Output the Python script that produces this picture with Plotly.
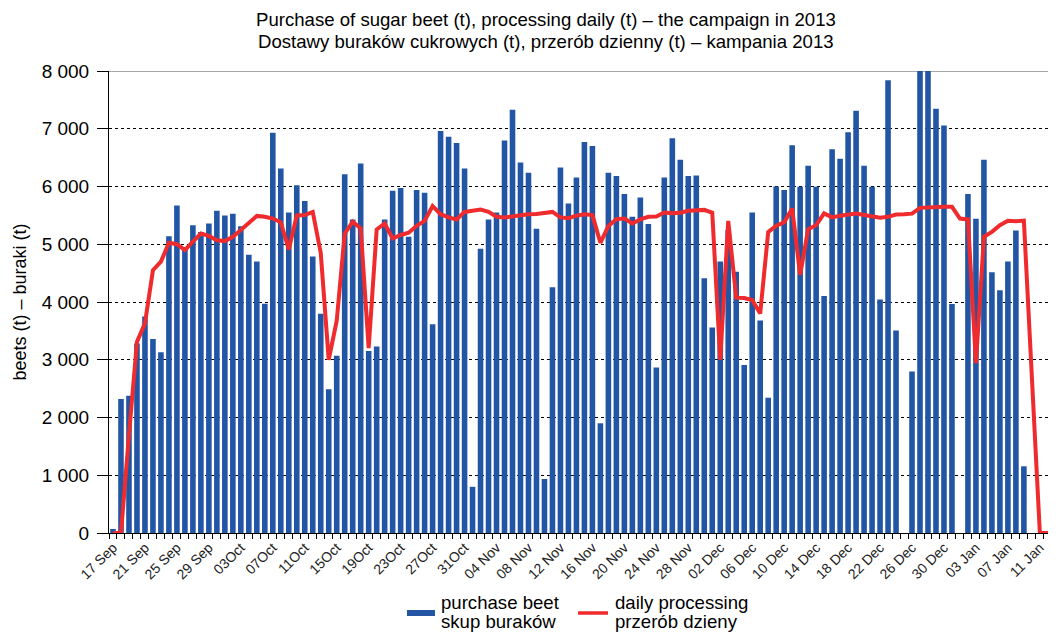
import pandas as pd
import plotly.graph_objects as go

# ---- data -------------------------------------------------------------
days = [d.strftime("%d %b") for d in pd.date_range("2013-09-17", "2014-01-13", freq="D")]

purchase = [
    70, 2320, 2375, 3280, 3750, 3360, 3130, 5140, 5670, 4930,
    5330, 5210, 5360, 5580, 5500, 5530, 5310, 4820, 4700, 3970,
    6930, 6310, 5550, 6020, 5750, 4790, 3795, 2490, 3070, 6210,
    5430, 6400, 3150, 3230, 5430, 5925, 5975, 5130, 5940, 5890,
    3615, 6960, 6860, 6755, 6310, 800, 4920, 5430, 5550, 6795,
    7330, 6415, 6240, 5270, 935, 4255, 6330, 5705, 6155, 6770,
    6700, 1900, 6240, 6180, 5870, 5475, 5810, 5350, 2865, 6155,
    6835, 6465, 6180, 6190, 4410, 3560, 4700, 5245, 4525, 2910,
    5550, 3680, 2340, 6000, 5940, 6715, 5995, 6360, 5995, 4105,
    6645, 6480, 6940, 7310, 6360, 5995, 4045, 7840, 3505, 0,
    2795, 8250, 8150, 7345, 7055, 3965, 0, 5870, 5440, 6465,
    4515, 4205, 4700, 5240, 1155, 0, 0, 0, 0,
]

processing = [
    0, 0, 1700, 3310, 3630, 4550, 4700, 5025, 5000, 4900,
    5045, 5185, 5145, 5070, 5055, 5130, 5245, 5360, 5490, 5475,
    5445, 5380, 4910, 5500, 5505, 5560, 4850, 3000, 3675, 5185,
    5390, 5275, 3200, 5255, 5360, 5100, 5160, 5200, 5320, 5405,
    5660, 5520, 5465, 5430, 5560, 5580, 5600, 5560, 5475, 5465,
    5485, 5505, 5520, 5525, 5545, 5560, 5465, 5450, 5495, 5520,
    5505, 5025, 5315, 5435, 5445, 5360, 5430, 5475, 5480, 5550,
    5535, 5545, 5580, 5590, 5595, 5545, 3000, 5405, 4075, 4070,
    4035, 3800, 5210, 5320, 5380, 5620, 4470, 5260, 5330, 5535,
    5465, 5495, 5520, 5530, 5505, 5475, 5460, 5475, 5515, 5520,
    5530, 5630, 5640, 5645, 5650, 5648, 5445, 5430, 2940, 5130,
    5215, 5330, 5405, 5400, 5410, 2700, 0, 0, 0,
]

tick_idx = list(range(0, 117, 4))
tick_labels = [
    "17 Sep", "21 Sep", "25 Sep", "29 Sep", "03Oct", "07Oct", "11Oct", "15Oct",
    "19Oct", "23Oct", "27Oct", "31Oct", "04 Nov", "08 Nov", "12 Nov", "16 Nov",
    "20 Nov", "24 Nov", "28 Nov", "02 Dec", "06 Dec", "10 Dec", "14 Dec",
    "18 Dec", "22 Dec", "26 Dec", "30 Dec", "03 Jan", "07 Jan", "11 Jan",
]
y_ticks = [0, 1000, 2000, 3000, 4000, 5000, 6000, 7000, 8000]

series_names = [["purchase beet", "skup buraków"], ["daily processing", "przerób dzieny"]]
title_lines = [
    "Purchase of sugar beet (t), processing daily (t) – the campaign in 2013",
    "Dostawy buraków cukrowych (t), przerób dzienny (t) – kampania 2013",
]
y_title = "beets (t) – buraki (t)"

# ---- figure -----------------------------------------------------------
x = list(range(len(days)))
FONT = "Liberation Sans, Arial, sans-serif"
BLUE, RED = "#2256a5", "#ef2b2d"
# the page body adds an 8px margin, so the figure is 8px smaller each way
W, H = 1048, 624
ML, MR, MT, MB = 101, 0, 63, 99
PW, PH = W - ML - MR, H - MT - MB


def px(fx):
    return (fx - ML) / PW


def py(fy):
    return (H - MB - fy) / PH


fig = go.Figure()
fig.add_trace(go.Bar(
    x=x, y=purchase, name=" / ".join(series_names[0]), customdata=days,
    marker=dict(color=BLUE, line=dict(width=0)),
    hovertemplate="%{customdata}: %{y}<extra></extra>",
))
fig.add_trace(go.Scatter(
    x=x, y=processing, name=" / ".join(series_names[1]), mode="lines", customdata=days,
    line=dict(color=RED, width=4),
    hovertemplate="%{customdata}: %{y}<extra></extra>",
))

fig.update_layout(
    width=W, height=H,
    margin=dict(l=ML, r=MR, t=MT, b=MB, autoexpand=False),
    plot_bgcolor="white", paper_bgcolor="white",
    font=dict(family=FONT, color="black"),
    bargap=0.3,
    showlegend=False,
    separators=". ",
)

# two-line title, one annotation per line
for line_text, ypix in zip(title_lines, [12, 34]):
    fig.add_annotation(
        text=line_text, showarrow=False,
        xref="paper", x=px(538), xanchor="center",
        yref="paper", y=py(ypix), yanchor="middle",
        font=dict(size=18.6, color="black"),
    )

# legend drawn below the plot (wide blue key, red line key, two-line labels)
fig.add_shape(type="rect", xref="paper", yref="paper",
              x0=px(399), x1=px(427), y0=py(602), y1=py(608),
              fillcolor=BLUE, line=dict(width=0))
fig.add_shape(type="line", xref="paper", yref="paper",
              x0=px(570), x1=px(600), y0=py(605), y1=py(605),
              line=dict(color=RED, width=3.5))
for names, left in zip(series_names, [431, 605]):
    for txt, cy in zip(names, [594.5, 613.5]):
        fig.add_annotation(
            text=txt, showarrow=False,
            xref="paper", x=px(left), xanchor="left",
            yref="paper", y=py(cy), yanchor="middle",
            font=dict(size=18.6, color="black"),
        )

fig.update_xaxes(
    range=[-0.5, 118.02], automargin=False,
    tickmode="array", tickvals=tick_idx, ticktext=tick_labels,
    tickangle=-45, tickfont=dict(size=14, color="#222"),
    ticks="", showgrid=False, zeroline=False,
    showline=True, linecolor="black", linewidth=1,
    minor=dict(tickmode="array", tickvals=[i - 0.5 for i in x] + [len(x) - 0.5],
               ticks="outside", ticklen=5, tickcolor="black", tickwidth=1, showgrid=False),
)
fig.update_yaxes(
    range=[0, 8000], automargin=False,
    tickmode="array", tickvals=y_ticks, tickformat=",d",
    tickfont=dict(size=19, color="black"),
    ticks="outside", ticklen=11, tickcolor="black", ticklabelstandoff=4,
    showline=True, linecolor="black", linewidth=1,
    showgrid=True, gridcolor="black", griddash="dot", gridwidth=1,
    zeroline=False,
    title=dict(text=y_title, font=dict(size=18, color="black"), standoff=10),
)

# solid grey frame line at the top of the plot area
fig.add_shape(type="line", xref="paper", yref="y", x0=0, x1=1, y0=8000, y1=8000,
              line=dict(color="#888", width=1.5), layer="between")

fig.write_html("out.html")
